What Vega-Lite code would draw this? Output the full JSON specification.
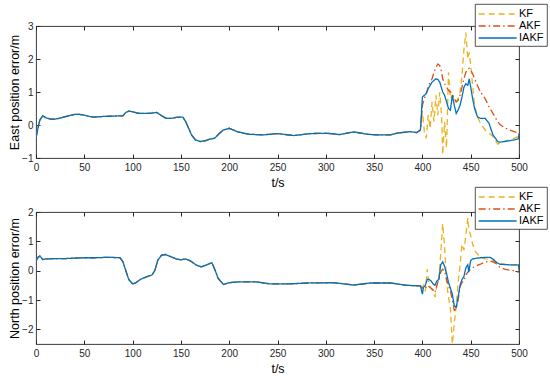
{
  "$schema": "https://vega.github.io/schema/vega-lite/v6.json",
  "autosize": {"type": "none"},
  "padding": {"left": 36, "top": 26, "right": 514, "bottom": 355},
  "bounds": "flush",
  "spacing": 54,
  "config": {
    "view": {"stroke": "#262626", "strokeWidth": 0.9},
    "axis": {
      "grid": false, "domain": false, "tickColor": "#262626", "tickWidth": 1, "tickSize": -4,
      "labelFont": "Liberation Sans", "labelFontSize": 10, "labelColor": "#262626",
      "labelFlush": false, "labelOverlap": false,
      "titleFont": "Liberation Sans", "titleFontSize": 12.5, "titleFontWeight": "normal", "titleColor": "#000000"
    },
    "axisX": {"labelPadding": 8, "titlePadding": 4},
    "axisY": {"labelPadding": 7, "titlePadding": 0},
    "legend": {
      "orient": "none", "fillColor": "#ffffff", "strokeColor": "#262626", "strokeWidth": 0.8,
      "padding": 3, "rowPadding": 0, "symbolType": "M-1,0H5", "symbolSize": 160, "symbolStrokeWidth": 1.3,
      "labelOffset": 27, "labelFont": "Liberation Sans", "labelFontSize": 11, "labelColor": "#000000", "title": null
    }
  },
  "resolve": {
    "scale": {"y": "independent", "color": "independent", "strokeDash": "independent"},
    "legend": {"color": "independent", "strokeDash": "independent"}
  },
  "datasets": {
    "east": [
      {"t":0,"KF":-0.38,"AKF":-0.38,"IAKF":-0.38},
      {"t":2,"KF":-0.1,"AKF":-0.1,"IAKF":-0.1},
      {"t":4,"KF":0.15,"AKF":0.15,"IAKF":0.15},
      {"t":7,"KF":0.28,"AKF":0.28,"IAKF":0.28},
      {"t":10,"KF":0.22,"AKF":0.22,"IAKF":0.22},
      {"t":15,"KF":0.18,"AKF":0.18,"IAKF":0.18},
      {"t":20,"KF":0.18,"AKF":0.18,"IAKF":0.18},
      {"t":25,"KF":0.21,"AKF":0.21,"IAKF":0.21},
      {"t":30,"KF":0.25,"AKF":0.25,"IAKF":0.25},
      {"t":35,"KF":0.29,"AKF":0.29,"IAKF":0.29},
      {"t":40,"KF":0.32,"AKF":0.32,"IAKF":0.32},
      {"t":45,"KF":0.32,"AKF":0.32,"IAKF":0.32},
      {"t":50,"KF":0.3,"AKF":0.3,"IAKF":0.3},
      {"t":55,"KF":0.26,"AKF":0.26,"IAKF":0.26},
      {"t":60,"KF":0.24,"AKF":0.24,"IAKF":0.24},
      {"t":70,"KF":0.26,"AKF":0.26,"IAKF":0.26},
      {"t":80,"KF":0.27,"AKF":0.27,"IAKF":0.27},
      {"t":90,"KF":0.28,"AKF":0.28,"IAKF":0.28},
      {"t":93,"KF":0.38,"AKF":0.38,"IAKF":0.38},
      {"t":96,"KF":0.42,"AKF":0.42,"IAKF":0.42},
      {"t":100,"KF":0.4,"AKF":0.4,"IAKF":0.4},
      {"t":105,"KF":0.36,"AKF":0.36,"IAKF":0.36},
      {"t":110,"KF":0.35,"AKF":0.35,"IAKF":0.35},
      {"t":115,"KF":0.35,"AKF":0.35,"IAKF":0.35},
      {"t":120,"KF":0.36,"AKF":0.36,"IAKF":0.36},
      {"t":125,"KF":0.38,"AKF":0.38,"IAKF":0.38},
      {"t":130,"KF":0.28,"AKF":0.28,"IAKF":0.28},
      {"t":135,"KF":0.2,"AKF":0.2,"IAKF":0.2},
      {"t":140,"KF":0.2,"AKF":0.2,"IAKF":0.2},
      {"t":145,"KF":0.23,"AKF":0.23,"IAKF":0.23},
      {"t":152,"KF":0.24,"AKF":0.24,"IAKF":0.24},
      {"t":155,"KF":0.1,"AKF":0.1,"IAKF":0.1},
      {"t":158,"KF":-0.1,"AKF":-0.1,"IAKF":-0.1},
      {"t":161,"KF":-0.3,"AKF":-0.3,"IAKF":-0.3},
      {"t":165,"KF":-0.45,"AKF":-0.45,"IAKF":-0.45},
      {"t":170,"KF":-0.5,"AKF":-0.5,"IAKF":-0.5},
      {"t":175,"KF":-0.48,"AKF":-0.48,"IAKF":-0.48},
      {"t":180,"KF":-0.43,"AKF":-0.43,"IAKF":-0.43},
      {"t":185,"KF":-0.4,"AKF":-0.4,"IAKF":-0.4},
      {"t":190,"KF":-0.25,"AKF":-0.25,"IAKF":-0.25},
      {"t":194,"KF":-0.15,"AKF":-0.15,"IAKF":-0.15},
      {"t":200,"KF":-0.1,"AKF":-0.1,"IAKF":-0.1},
      {"t":204,"KF":-0.15,"AKF":-0.15,"IAKF":-0.15},
      {"t":208,"KF":-0.2,"AKF":-0.2,"IAKF":-0.2},
      {"t":215,"KF":-0.25,"AKF":-0.25,"IAKF":-0.25},
      {"t":221,"KF":-0.28,"AKF":-0.28,"IAKF":-0.28},
      {"t":235,"KF":-0.3,"AKF":-0.3,"IAKF":-0.3},
      {"t":250,"KF":-0.26,"AKF":-0.26,"IAKF":-0.26},
      {"t":267,"KF":-0.32,"AKF":-0.32,"IAKF":-0.32},
      {"t":284,"KF":-0.26,"AKF":-0.26,"IAKF":-0.26},
      {"t":301,"KF":-0.25,"AKF":-0.25,"IAKF":-0.25},
      {"t":314,"KF":-0.29,"AKF":-0.29,"IAKF":-0.29},
      {"t":329,"KF":-0.21,"AKF":-0.21,"IAKF":-0.21},
      {"t":343,"KF":-0.28,"AKF":-0.28,"IAKF":-0.28},
      {"t":353,"KF":-0.3,"AKF":-0.3,"IAKF":-0.3},
      {"t":367,"KF":-0.3,"AKF":-0.3,"IAKF":-0.3},
      {"t":373,"KF":-0.25,"AKF":-0.25,"IAKF":-0.25},
      {"t":387,"KF":-0.2,"AKF":-0.2,"IAKF":-0.2},
      {"t":394,"KF":-0.23,"AKF":-0.23,"IAKF":-0.23},
      {"t":398,"KF":-0.15,"AKF":-0.15,"IAKF":-0.15},
      {"t":400,"KF":0.4,"AKF":0.6,"IAKF":0.85},
      {"t":402,"KF":-0.2,"AKF":0.8,"IAKF":0.9},
      {"t":404,"KF":-0.4,"AKF":0.95,"IAKF":0.95},
      {"t":406,"KF":0.3,"AKF":1.15,"IAKF":1.1},
      {"t":408,"KF":-0.1,"AKF":1.3,"IAKF":1.2},
      {"t":410,"KF":0.7,"AKF":1.4,"IAKF":1.3},
      {"t":412,"KF":0.1,"AKF":1.6,"IAKF":1.35},
      {"t":414,"KF":0.9,"AKF":1.75,"IAKF":1.4},
      {"t":416,"KF":0.3,"AKF":1.85,"IAKF":1.38},
      {"t":418,"KF":1.0,"AKF":1.8,"IAKF":1.3},
      {"t":420,"KF":0.2,"AKF":1.6,"IAKF":1.1},
      {"t":421,"KF":-0.9,"AKF":1.4,"IAKF":1.0},
      {"t":423,"KF":0.1,"AKF":1.25,"IAKF":0.9},
      {"t":425,"KF":-0.7,"AKF":1.15,"IAKF":0.7},
      {"t":427,"KF":1.6,"AKF":1.05,"IAKF":0.5},
      {"t":429,"KF":0.8,"AKF":1.0,"IAKF":0.45},
      {"t":431,"KF":0.9,"AKF":0.95,"IAKF":0.9},
      {"t":433,"KF":0.8,"AKF":0.8,"IAKF":0.6},
      {"t":435,"KF":0.7,"AKF":0.7,"IAKF":0.35},
      {"t":437,"KF":0.8,"AKF":0.75,"IAKF":0.45},
      {"t":439,"KF":1.0,"AKF":0.9,"IAKF":0.6},
      {"t":441,"KF":1.5,"AKF":1.15,"IAKF":0.85},
      {"t":443,"KF":2.3,"AKF":1.4,"IAKF":1.15},
      {"t":445,"KF":2.8,"AKF":1.6,"IAKF":1.25},
      {"t":447,"KF":2.0,"AKF":1.7,"IAKF":1.2},
      {"t":448.5,"KF":2.2,"AKF":1.72,"IAKF":1.4},
      {"t":450,"KF":1.8,"AKF":1.68,"IAKF":1.15},
      {"t":452,"KF":1.2,"AKF":1.55,"IAKF":0.8},
      {"t":454,"KF":0.6,"AKF":1.4,"IAKF":0.5},
      {"t":457,"KF":0.25,"AKF":1.2,"IAKF":0.25},
      {"t":460,"KF":0.05,"AKF":1.0,"IAKF":0.2},
      {"t":465,"KF":-0.15,"AKF":0.8,"IAKF":0.2},
      {"t":469,"KF":-0.25,"AKF":0.55,"IAKF":0.05},
      {"t":473,"KF":-0.35,"AKF":0.35,"IAKF":-0.3},
      {"t":478,"KF":-0.58,"AKF":0.1,"IAKF":-0.5},
      {"t":480,"KF":-0.55,"AKF":0.02,"IAKF":-0.52},
      {"t":485,"KF":-0.5,"AKF":-0.08,"IAKF":-0.5},
      {"t":490,"KF":-0.45,"AKF":-0.15,"IAKF":-0.48},
      {"t":495,"KF":-0.4,"AKF":-0.2,"IAKF":-0.45},
      {"t":499.5,"KF":-0.35,"AKF":-0.25,"IAKF":-0.42},
      {"t":500,"KF":-0.35,"AKF":-0.25,"IAKF":-0.25}
    ],
    "north": [
      {"t":0,"KF":0.33,"AKF":0.33,"IAKF":0.33},
      {"t":2,"KF":0.45,"AKF":0.45,"IAKF":0.45},
      {"t":4,"KF":0.5,"AKF":0.5,"IAKF":0.5},
      {"t":7,"KF":0.38,"AKF":0.38,"IAKF":0.38},
      {"t":10,"KF":0.4,"AKF":0.4,"IAKF":0.4},
      {"t":20,"KF":0.41,"AKF":0.41,"IAKF":0.41},
      {"t":30,"KF":0.41,"AKF":0.41,"IAKF":0.41},
      {"t":40,"KF":0.43,"AKF":0.43,"IAKF":0.43},
      {"t":50,"KF":0.44,"AKF":0.44,"IAKF":0.44},
      {"t":60,"KF":0.44,"AKF":0.44,"IAKF":0.44},
      {"t":70,"KF":0.45,"AKF":0.45,"IAKF":0.45},
      {"t":80,"KF":0.45,"AKF":0.45,"IAKF":0.45},
      {"t":87,"KF":0.44,"AKF":0.44,"IAKF":0.44},
      {"t":90,"KF":0.3,"AKF":0.3,"IAKF":0.3},
      {"t":93,"KF":0.0,"AKF":0.0,"IAKF":0.0},
      {"t":96,"KF":-0.3,"AKF":-0.3,"IAKF":-0.3},
      {"t":100,"KF":-0.45,"AKF":-0.45,"IAKF":-0.45},
      {"t":103,"KF":-0.42,"AKF":-0.42,"IAKF":-0.42},
      {"t":108,"KF":-0.3,"AKF":-0.3,"IAKF":-0.3},
      {"t":115,"KF":-0.2,"AKF":-0.2,"IAKF":-0.2},
      {"t":120,"KF":-0.15,"AKF":-0.15,"IAKF":-0.15},
      {"t":123,"KF":0.0,"AKF":0.0,"IAKF":0.0},
      {"t":126,"KF":0.35,"AKF":0.35,"IAKF":0.35},
      {"t":130,"KF":0.53,"AKF":0.53,"IAKF":0.53},
      {"t":134,"KF":0.55,"AKF":0.55,"IAKF":0.55},
      {"t":140,"KF":0.47,"AKF":0.47,"IAKF":0.47},
      {"t":145,"KF":0.4,"AKF":0.4,"IAKF":0.4},
      {"t":150,"KF":0.37,"AKF":0.37,"IAKF":0.37},
      {"t":155,"KF":0.4,"AKF":0.4,"IAKF":0.4},
      {"t":160,"KF":0.33,"AKF":0.33,"IAKF":0.33},
      {"t":166,"KF":0.19,"AKF":0.19,"IAKF":0.19},
      {"t":171,"KF":0.13,"AKF":0.13,"IAKF":0.13},
      {"t":176,"KF":0.19,"AKF":0.19,"IAKF":0.19},
      {"t":182,"KF":0.27,"AKF":0.27,"IAKF":0.27},
      {"t":185,"KF":0.05,"AKF":0.05,"IAKF":0.05},
      {"t":188.5,"KF":-0.26,"AKF":-0.26,"IAKF":-0.26},
      {"t":194,"KF":-0.47,"AKF":-0.47,"IAKF":-0.47},
      {"t":200,"KF":-0.41,"AKF":-0.41,"IAKF":-0.41},
      {"t":211,"KF":-0.38,"AKF":-0.38,"IAKF":-0.38},
      {"t":228,"KF":-0.38,"AKF":-0.38,"IAKF":-0.38},
      {"t":242,"KF":-0.45,"AKF":-0.45,"IAKF":-0.45},
      {"t":263,"KF":-0.45,"AKF":-0.45,"IAKF":-0.45},
      {"t":281,"KF":-0.42,"AKF":-0.42,"IAKF":-0.42},
      {"t":308,"KF":-0.41,"AKF":-0.41,"IAKF":-0.41},
      {"t":329,"KF":-0.49,"AKF":-0.49,"IAKF":-0.49},
      {"t":346,"KF":-0.42,"AKF":-0.42,"IAKF":-0.42},
      {"t":367,"KF":-0.42,"AKF":-0.42,"IAKF":-0.42},
      {"t":384,"KF":-0.5,"AKF":-0.5,"IAKF":-0.5},
      {"t":398,"KF":-0.52,"AKF":-0.52,"IAKF":-0.52},
      {"t":400,"KF":-0.6,"AKF":-0.6,"IAKF":-0.8},
      {"t":401,"KF":-0.5,"AKF":-0.6,"IAKF":-0.58},
      {"t":403,"KF":-0.7,"AKF":-0.6,"IAKF":-0.5},
      {"t":405,"KF":0.05,"AKF":-0.5,"IAKF":-0.3},
      {"t":407,"KF":-0.5,"AKF":-0.55,"IAKF":-0.3},
      {"t":409,"KF":-0.6,"AKF":-0.6,"IAKF":-0.35},
      {"t":411,"KF":-0.7,"AKF":-0.65,"IAKF":-0.45},
      {"t":413,"KF":-0.9,"AKF":-0.75,"IAKF":-0.5},
      {"t":415,"KF":-0.5,"AKF":-0.5,"IAKF":-0.35},
      {"t":417,"KF":-0.3,"AKF":-0.3,"IAKF":-0.3},
      {"t":419,"KF":0.6,"AKF":-0.05,"IAKF":0.2},
      {"t":421,"KF":1.6,"AKF":0.05,"IAKF":0.3},
      {"t":423,"KF":0.8,"AKF":0.0,"IAKF":0.15},
      {"t":425,"KF":-0.4,"AKF":-0.3,"IAKF":-0.1},
      {"t":427,"KF":-0.9,"AKF":-0.5,"IAKF":-0.4},
      {"t":429,"KF":-1.3,"AKF":-0.7,"IAKF":-0.6},
      {"t":431,"KF":-2.5,"AKF":-1.0,"IAKF":-0.8},
      {"t":433,"KF":-1.8,"AKF":-1.35,"IAKF":-1.2},
      {"t":435,"KF":-1.2,"AKF":-1.3,"IAKF":-1.25},
      {"t":437,"KF":-0.4,"AKF":-1.0,"IAKF":-0.9},
      {"t":439,"KF":0.2,"AKF":-0.55,"IAKF":-0.5},
      {"t":441,"KF":0.9,"AKF":-0.4,"IAKF":-0.3},
      {"t":443,"KF":0.7,"AKF":-0.35,"IAKF":-0.2},
      {"t":445,"KF":1.2,"AKF":-0.15,"IAKF":0.1},
      {"t":447,"KF":1.8,"AKF":-0.05,"IAKF":0.2},
      {"t":448,"KF":1.4,"AKF":0.0,"IAKF":-0.05},
      {"t":450,"KF":1.2,"AKF":0.05,"IAKF":0.35},
      {"t":452,"KF":0.9,"AKF":0.1,"IAKF":0.4},
      {"t":455,"KF":0.65,"AKF":0.15,"IAKF":0.42},
      {"t":460,"KF":0.45,"AKF":0.22,"IAKF":0.44},
      {"t":465,"KF":0.4,"AKF":0.3,"IAKF":0.45},
      {"t":470,"KF":0.38,"AKF":0.32,"IAKF":0.45},
      {"t":473,"KF":0.35,"AKF":0.3,"IAKF":0.4},
      {"t":476,"KF":0.3,"AKF":0.25,"IAKF":0.3},
      {"t":480,"KF":0.25,"AKF":0.12,"IAKF":0.22},
      {"t":485,"KF":0.22,"AKF":0.05,"IAKF":0.21},
      {"t":490,"KF":0.2,"AKF":0.02,"IAKF":0.2},
      {"t":495,"KF":0.19,"AKF":0.0,"IAKF":0.2},
      {"t":499.5,"KF":0.18,"AKF":-0.05,"IAKF":0.2},
      {"t":500,"KF":0.18,"AKF":-0.05,"IAKF":0.0}
    ]
  },
  "vconcat": [
    {
      "width": 483, "height": 132,
      "data": {"name": "east"},
      "transform": [{"fold": ["KF", "AKF", "IAKF"], "as": ["s", "v"]}],
      "layer": [
        {
          "mark": {"type": "line", "strokeWidth": 1.3, "clip": true},
          "encoding": {
            "x": {"field": "t", "type": "quantitative", "scale": {"domain": [0, 500], "nice": false},
                  "axis": {"orient": "bottom", "values": [0,50,100,150,200,250,300,350,400,450,500], "title": "t/s"}},
            "y": {"field": "v", "type": "quantitative", "scale": {"domain": [-1, 3], "nice": false, "zero": false},
                  "axis": {"orient": "left", "values": [-1,0,1,2,3], "title": "East position error/m"}},
            "color": {"field": "s", "type": "nominal", "sort": null,
                      "scale": {"domain": ["KF", "AKF", "IAKF"], "range": ["#EDB120", "#D95319", "#0072BD"]},
                      "legend": {"orient": "none", "legendX": 439, "legendY": -22, "title": null}},
            "strokeDash": {"field": "s", "type": "nominal", "sort": null,
                      "scale": {"domain": ["KF", "AKF", "IAKF"], "range": [[6, 4], [7, 3, 1.5, 3], [1, 0]]},
                      "legend": {"orient": "none", "legendX": 439, "legendY": -22, "title": null}}
          }
        },
        {
          "mark": {"type": "point", "opacity": 0},
          "encoding": {
            "x": {"field": "t", "type": "quantitative", "scale": {"domain": [0, 500], "nice": false},
                  "axis": {"orient": "top", "values": [0,50,100,150,200,250,300,350,400,450,500], "labels": false, "title": null}},
            "y": {"field": "v", "type": "quantitative", "scale": {"domain": [-1, 3], "nice": false, "zero": false},
                  "axis": {"orient": "right", "values": [-1,0,1,2,3], "labels": false, "title": null}}
          }
        }
      ]
    },
    {
      "width": 483, "height": 132,
      "data": {"name": "north"},
      "transform": [{"fold": ["KF", "AKF", "IAKF"], "as": ["s", "v"]}],
      "layer": [
        {
          "mark": {"type": "line", "strokeWidth": 1.3, "clip": true},
          "encoding": {
            "x": {"field": "t", "type": "quantitative", "scale": {"domain": [0, 500], "nice": false},
                  "axis": {"orient": "bottom", "values": [0,50,100,150,200,250,300,350,400,450,500], "title": "t/s"}},
            "y": {"field": "v", "type": "quantitative", "scale": {"domain": [-2.5, 2], "nice": false, "zero": false},
                  "axis": {"orient": "left", "values": [-2,-1,0,1,2], "title": "North position error/m"}},
            "color": {"field": "s", "type": "nominal", "sort": null,
                      "scale": {"domain": ["KF", "AKF", "IAKF"], "range": ["#EDB120", "#D95319", "#0072BD"]},
                      "legend": {"orient": "none", "legendX": 439, "legendY": -25, "title": null}},
            "strokeDash": {"field": "s", "type": "nominal", "sort": null,
                      "scale": {"domain": ["KF", "AKF", "IAKF"], "range": [[6, 4], [7, 3, 1.5, 3], [1, 0]]},
                      "legend": {"orient": "none", "legendX": 439, "legendY": -25, "title": null}}
          }
        },
        {
          "mark": {"type": "point", "opacity": 0},
          "encoding": {
            "x": {"field": "t", "type": "quantitative", "scale": {"domain": [0, 500], "nice": false},
                  "axis": {"orient": "top", "values": [0,50,100,150,200,250,300,350,400,450,500], "labels": false, "title": null}},
            "y": {"field": "v", "type": "quantitative", "scale": {"domain": [-2.5, 2], "nice": false, "zero": false},
                  "axis": {"orient": "right", "values": [-2,-1,0,1,2], "labels": false, "title": null}}
          }
        }
      ]
    }
  ]
}
